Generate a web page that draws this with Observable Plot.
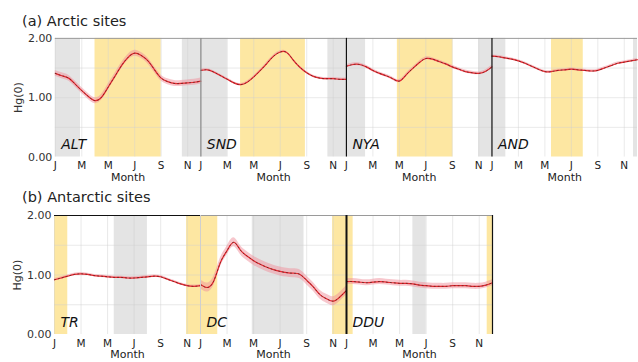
<!DOCTYPE html>
<html>
<head>
<meta charset="utf-8">
<script src="https://cdn.jsdelivr.net/npm/d3@7"></script>
<script src="https://cdn.jsdelivr.net/npm/@observablehq/plot@0.6"></script>
<style>
  html, body { margin: 0; padding: 0; background: #fff; overflow: hidden; width: 638px; height: 362px; }
  body { font-family: "DejaVu Sans", sans-serif; color: #222; }
  .row { position: relative; }
  .ttl { position: absolute; left: 22px; font-size: 14.5px; line-height: 14.5px; white-space: nowrap; color: #222; }
  svg { display: block; }
</style>
</head>
<body>
<div class="row" id="rowA"><div class="ttl" style="top:14px">(a) Arctic sites</div></div>
<div class="row" id="rowB"><div class="ttl" style="top:6px">(b) Antarctic sites</div></div>
<script>
// ---------- data ----------
const months = [1,1.5,2,2.5,3,3.5,4,4.5,5,5.5,6,6.5,7,7.5,8,8.5,9,9.5,10,10.5,11,11.5,12];
const monthLetters = ["J","F","M","A","M","J","J","A","S","O","N","D"];
const tickMonths = [1,3,5,7,9,11];
const yTicks = [0, 1, 2];

const arcticSites = ["ALT","SND","NYA","AND"];
const antarcticSites = ["TR","DC","DDU"];

const ALT = [1.41,1.37,1.33,1.23,1.12,1.02,0.95,1.01,1.18,1.36,1.54,1.68,1.75,1.71,1.62,1.47,1.33,1.27,1.24,1.24,1.25,1.26,1.28];
const SND = [1.46,1.47,1.43,1.37,1.31,1.25,1.22,1.26,1.35,1.46,1.58,1.70,1.77,1.76,1.63,1.51,1.42,1.36,1.33,1.32,1.32,1.31,1.31];
const NYA = [1.53,1.56,1.56,1.52,1.46,1.41,1.37,1.32,1.28,1.38,1.49,1.59,1.66,1.65,1.61,1.57,1.52,1.48,1.44,1.42,1.41,1.44,1.52];
const AND = [1.70,1.69,1.67,1.65,1.62,1.58,1.53,1.48,1.44,1.44,1.46,1.47,1.48,1.47,1.46,1.45,1.46,1.50,1.54,1.58,1.60,1.62,1.64];
const TR  = [0.92,0.95,0.98,1.01,1.02,1.01,0.99,0.98,0.97,0.96,0.96,0.95,0.95,0.96,0.97,0.98,0.97,0.93,0.89,0.85,0.82,0.81,0.82];
const DC  = [0.84,0.79,0.90,1.21,1.41,1.55,1.42,1.32,1.24,1.18,1.13,1.09,1.06,1.04,1.03,1.01,0.91,0.80,0.67,0.60,0.56,0.63,0.74];
const DDU = [0.89,0.89,0.88,0.87,0.88,0.89,0.88,0.87,0.86,0.86,0.85,0.83,0.82,0.81,0.81,0.81,0.82,0.82,0.82,0.81,0.81,0.83,0.87];
const series = {ALT, SND, NYA, AND, TR, DC, DDU};
// half-width of uncertainty band
const spread = {ALT: 0.05, SND: 0.02, NYA: 0.025, AND: 0.02, TR: 0.02, DC: 0.075, DDU: 0.05};

// shaded periods: [site, startMonth, endMonth, kind]
const periods = [
  ["ALT",1,2.9,"night"],["ALT",4.0,9.0,"day"],["ALT",10.6,12,"night"],
  ["SND",1,3.0,"night"],["SND",4.0,8.9,"day"],["SND",10.6,12,"night"],
  ["NYA",1,2.45,"night"],["NYA",4.85,9.05,"day"],["NYA",11.0,12,"night"],
  ["AND",1,2.05,"night"],["AND",5.5,7.9,"day"],["AND",11.7,12,"night"],
  ["TR",1,2.0,"day"],["TR",5.5,8.0,"night"],["TR",10.95,12,"day"],
  ["DC",1,2.3,"day"],["DC",4.9,8.8,"night"],["DC",10.95,12,"day"],
  ["DDU",1,1.5,"day"],["DDU",6.0,7.0,"night"],["DDU",11.6,12,"day"]
];

// ---------- helpers ----------
const rowsFor = sites => sites.flatMap(s => series[s].map((v, i) => ({site: s, m: months[i], v, lo: v - spread[s], hi: v + spread[s]})));
const bandRows = periods.map(([site, a, b, kind]) => ({site, a, b, kind}));
const bandFill = {night: "#e4e4e4", day: "#fde7a2"};

function panelRow(sites, opts) {
  const rows = rowsFor(sites);
  const bands = bandRows.filter(d => sites.includes(d.site));
  return Plot.plot({
    width: opts.width,
    height: opts.height,
    marginTop: opts.marginTop,
    marginBottom: opts.height - opts.marginTop - 119,
    marginLeft: 53,
    marginRight: 0,
    style: {fontFamily: "DejaVu Sans, sans-serif", fontSize: "11px", color: "#333", background: "#fff", overflow: "visible"},
    fx: {domain: sites, padding: 0, axis: null},
    x: {domain: [1, 12]},
    y: {domain: [0, 2]},
    marks: [
      Plot.rect(bands, {x1: "a", x2: "b", fx: "site", fill: d => bandFill[d.kind]}),
      Plot.gridX({ticks: tickMonths, stroke: "#cfcfcf", strokeOpacity: 0.45}),
      Plot.gridY({ticks: [0.5, 1, 1.5], stroke: "#cfcfcf", strokeOpacity: 0.45}),
      Plot.areaY(rows, {x: "m", y1: "lo", y2: "hi", fx: "site", fill: "#f08f9b", fillOpacity: 0.5, curve: "natural"}),
      Plot.line(rows, {x: "m", y: "v", fx: "site", stroke: "#e8262f", strokeWidth: 1.2, curve: "natural"}),
      Plot.line(rows, {x: "m", y: "v", fx: "site", stroke: "#3a2418", strokeOpacity: 0.8, strokeWidth: 0.8, strokeDasharray: "1,3", curve: "natural"}),
      // spines
      Plot.ruleY(sites, {fx: d => d, y: () => 2, stroke: d => opts.topStroke(d), strokeWidth: 1}),
      Plot.ruleX(sites.filter(s => opts.leftStroke(s)), {fx: d => d, x: () => 1, stroke: d => opts.leftStroke(d), strokeWidth: d => opts.leftWidth(d)}),
      Plot.ruleX(sites.filter(s => opts.rightStroke(s)), {fx: d => d, x: () => 12, stroke: d => opts.rightStroke(d), strokeWidth: 1.2}),
      // site names
      Plot.text(sites, {fx: d => d, text: d => d, frameAnchor: "bottom-left", dx: 6, dy: -8, fontStyle: "italic", fontSize: 14, fill: "#111", textAnchor: "start"}),
      // axes
      Plot.axisX({ticks: tickMonths, tickFormat: m => monthLetters[m - 1], tickSize: 0, tickPadding: 5, label: null, fontSize: 10.5, fill: "#222"}),
      Plot.text(sites, {fx: d => d, text: () => "Month", frameAnchor: "bottom", lineAnchor: "top", dy: 16, fontSize: 11, fill: "#222"}),
      Plot.axisY({ticks: yTicks, tickFormat: d3.format(".2f"), tickSize: 0, tickPadding: 3, fontSize: 11, fill: "#333",
        label: "Hg(0)", labelAnchor: "center", labelArrow: "none", labelOffset: 41})
    ]
  });
}

const topRow = panelRow(arcticSites, {
  width: 640, height: 185, marginTop: 38,
  topStroke: s => "#9a9a9a",
  leftStroke: s => ({SND: "#8a8a8a", NYA: "#111", AND: "#111"})[s],
  leftWidth: s => 1.2,
  rightStroke: s => null
});
const bottomRow = panelRow(antarcticSites, {
  width: 493, height: 177, marginTop: 31,
  topStroke: s => s === "TR" ? "#111" : "#9a9a9a",
  leftStroke: s => ({DC: "#cfcfcf", DDU: "#111"})[s],
  leftWidth: s => s === "DDU" ? 2 : 1,
  rightStroke: s => s === "DDU" ? "#111" : null
});
document.getElementById("rowA").appendChild(topRow);
document.getElementById("rowB").appendChild(bottomRow);
</script>
</body>
</html>
